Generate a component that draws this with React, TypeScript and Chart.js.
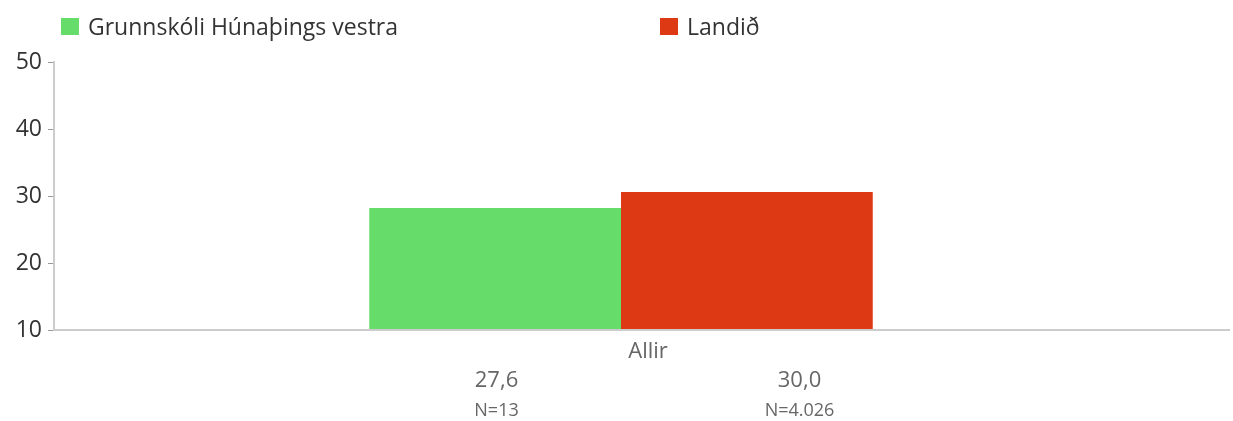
import React, { useEffect, useRef } from "react";
import { Chart, registerables } from "chart.js";

Chart.register(...registerables);

const categories = ["Allir"];
const seriesNames = ["Grunnskóli Húnaþings vestra", "Landið"];
const seriesColors = ["#66DD6A", "#DD3914"];
const schoolValues = [28.2];
const nationalValues = [30.6];
const meanLabels = ["27,6", "30,0"];
const countLabels = ["N=13", "N=4.026"];
const yTicks = [10, 20, 30, 40, 50];

const FONT = "'Open Sans', 'Noto Sans', sans-serif";

export default function App() {
  const ref = useRef<HTMLCanvasElement | null>(null);

  useEffect(() => {
    document.body.style.margin = "0";
    const canvas = ref.current;
    if (!canvas) return;

    const extras = {
      id: "extras",
      afterDraw(chart: any) {
        const ctx = chart.ctx;
        const area = chart.chartArea;
        const xs = chart.scales.x;
        ctx.save();
        // x axis line across the full width
        ctx.strokeStyle = "#cccccc";
        ctx.lineWidth = 2;
        ctx.beginPath();
        ctx.moveTo(area.left - 1, area.bottom);
        ctx.lineTo(chart.width - 3, area.bottom);
        ctx.stroke();

        const center = xs.getPixelForValue(0) + 27;
        const offsets = [-151.5, 151.5];
        ctx.textAlign = "center";
        ctx.textBaseline = "middle";
        meanLabels.forEach((t, i) => {
          ctx.fillStyle = "#666666";
          ctx.font = `22px ${FONT}`;
          ctx.fillText(t, center + offsets[i], area.bottom + 51);
          ctx.font = `18px ${FONT}`;
          ctx.fillText(countLabels[i], center + offsets[i], area.bottom + 81);
        });
        ctx.restore();
      },
    };

    const chart = new Chart(canvas, {
      type: "bar",
      data: {
        labels: categories,
        datasets: [
          {
            label: seriesNames[0],
            data: schoolValues,
            backgroundColor: seriesColors[0],
            base: 10,
          },
          {
            label: seriesNames[1],
            data: nationalValues,
            backgroundColor: seriesColors[1],
            base: 10,
          },
        ] as any,
      },
      options: {
        responsive: false,
        animation: false,
        layout: { padding: { top: 62, right: 45, left: 0, bottom: 0 } },
        plugins: {
          legend: { display: false },
          tooltip: { enabled: false },
        },
        datasets: {
          bar: { categoryPercentage: 0.444, barPercentage: 1 },
        },
        scales: {
          x: {
            grid: { display: false },
            border: { display: false },
            ticks: {
              color: "#666666",
              font: { family: FONT, size: 22 },
              labelOffset: 27,
              padding: 1,
            },
            afterFit(scale: any) {
              scale.height = 91;
            },
          },
          y: {
            min: 10,
            max: 50,
            afterBuildTicks(scale: any) {
              scale.ticks = yTicks.map((v) => ({ value: v }));
            },
            grid: {
              drawOnChartArea: false,
              drawTicks: true,
              tickLength: 6,
              color: "#999999",
            },
            border: { color: "#cccccc", width: 2 },
            ticks: {
              color: "#333333",
              font: { family: FONT, size: 23 },
              padding: 6,
            },
            afterFit(scale: any) {
              scale.width = 54;
            },
          },
        },
      },
      plugins: [extras],
    });

    return () => chart.destroy();
  }, []);

  return (
    <div style={{ position: "relative", width: 1233, height: 421, background: "#fff" }}>
      <div
        style={{
          position: "absolute",
          left: 61,
          top: 11,
          display: "flex",
          fontFamily: FONT,
          fontSize: 23,
          color: "#333333",
          lineHeight: "30px",
        }}
      >
        {seriesNames.map((n, i) => (
          <div key={n} style={{ width: 599, display: "flex", alignItems: "center" }}>
            <span
              style={{
                display: "inline-block",
                width: 18,
                height: 17,
                background: seriesColors[i],
                marginRight: 9,
              }}
            />
            <span>{n}</span>
          </div>
        ))}
      </div>
      <canvas ref={ref} width={1233} height={421} style={{ display: "block" }} />
    </div>
  );
}
